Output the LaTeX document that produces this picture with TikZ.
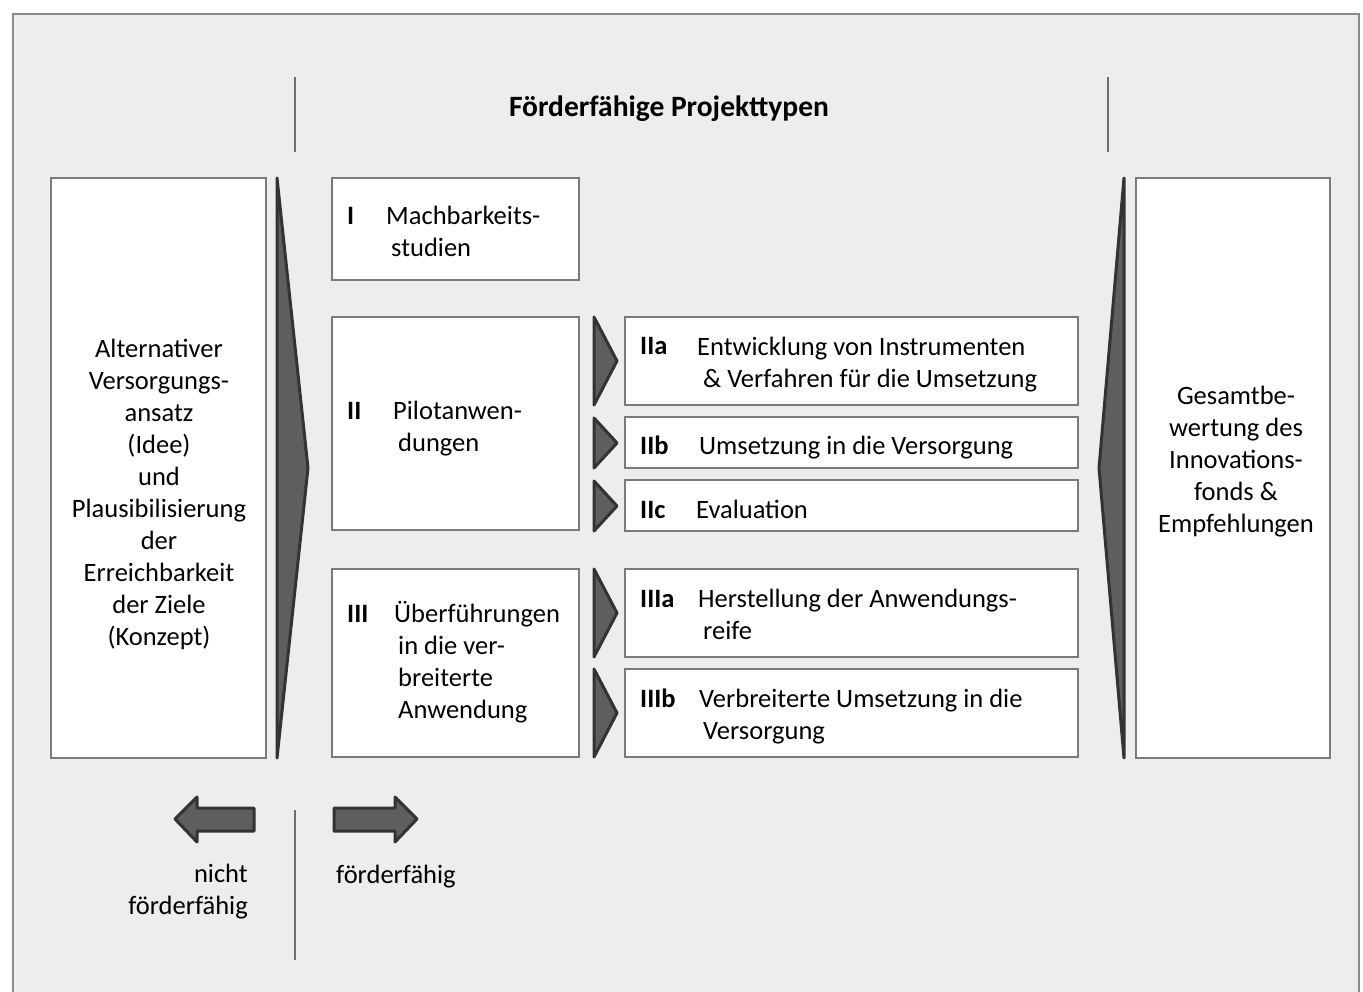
\documentclass[tikz,border=0pt]{standalone}
\usepackage{fontspec}
\setmainfont{Carlito}
\definecolor{bg}{HTML}{EDEDED}
\definecolor{frame}{HTML}{8A8A8A}
\definecolor{boxline}{HTML}{7A7A7A}
\definecolor{chevfill}{HTML}{5E5E5E}
\definecolor{chevline}{HTML}{333333}
\definecolor{sepline}{HTML}{6E6E6E}
\begin{document}
\begin{tikzpicture}[x=1pt,y=-1pt,
  box/.style={draw=boxline, line width=1.8pt, fill=white, anchor=north west, inner sep=0, outer sep=0},
  chev/.style={draw=chevline, fill=chevfill, line width=3pt, line join=round},
  sepl/.style={draw=sepline, line width=2pt},
  txt/.style={inner sep=0, anchor=base west, align=left, font=\fontsize{26.5}{32}\selectfont},
  lbl/.style={inner sep=0, anchor=base west, font=\fontsize{26.5}{32}\selectfont\bfseries},
  ctxt/.style={inner sep=0, anchor=center, align=center, font=\fontsize{26.5}{32}\selectfont}]
\useasboundingbox (0,0) rectangle (1363,992);
\clip (0,0) rectangle (1363,992);
\fill[white] (0,0) rectangle (1363,992);
\draw[draw=frame, fill=bg, line width=2.5pt] (13,14) rectangle (1359,1010);
% separators
\draw[sepl] (295,77) -- (295,152);
\draw[sepl] (1108,77) -- (1108,152);
\draw[sepl] (295,810) -- (295,960);
% title
\node[inner sep=0, font=\fontsize{29.5}{32}\selectfont\bfseries] (title) at (669,109) {Förderfähige Projekttypen};
% left box
\node[box, minimum width=215pt, minimum height=580pt] (left) at (51,178) {};
\node[ctxt] (lefttext) at (159,494) {Alternativer\\Versorgungs-\\ansatz\\(Idee)\\und\\Plausibilisierung\\der\\Erreichbarkeit\\der Ziele\\(Konzept)};
% big chevrons
\draw[chev] (277,178) -- (308,468) -- (277,758) -- cycle;
\draw[chev] (1124,178) -- (1099,468) -- (1124,758) -- cycle;
% right box
\node[box, minimum width=194pt, minimum height=580pt] (right) at (1136,178) {};
\node[ctxt] (righttext) at (1236,462) {Gesamtbe-\\wertung des\\Innovations-\\fonds \&\\Empfehlungen};
% middle boxes
\node[box, minimum width=247pt, minimum height=102pt] (bI) at (332,178) {};
\node[box, minimum width=247pt, minimum height=213pt] (bII) at (332,317) {};
\node[box, minimum width=247pt, minimum height=188pt] (bIII) at (332,569) {};
\node[lbl] (lI) at (347,225) {I};
\node[txt] (tI) at (386,257) {Machbarkeits-\\\hspace{5pt}studien};
\node[lbl] (lII) at (347,419) {II};
\node[txt] (tII) at (393,451) {Pilotanwen-\\\hspace{5pt}dungen};
\node[lbl] (lIII) at (347,622) {III};
\node[txt] (tIII) at (394,718) {Überführungen\\\hspace{4pt}in die ver-\\\hspace{4pt}breiterte\\\hspace{4pt}Anwendung};
% sub boxes
\node[box, minimum width=453pt, minimum height=88pt] (bIIa) at (625,317) {};
\node[box, minimum width=453pt, minimum height=51pt] (bIIb) at (625,417) {};
\node[box, minimum width=453pt, minimum height=51pt] (bIIc) at (625,480) {};
\node[box, minimum width=453pt, minimum height=88pt] (bIIIa) at (625,569) {};
\node[box, minimum width=453pt, minimum height=88pt] (bIIIb) at (625,669) {};
\node[lbl] (lIIa) at (640,355) {IIa};
\node[txt] (tIIa) at (697,387) {Entwicklung von Instrumenten\\\hspace{6pt}\& Verfahren für die Umsetzung};
\node[lbl] (lIIb) at (640,454) {IIb};
\node[txt] (tIIb) at (699,454) {Umsetzung in die Versorgung};
\node[lbl] (lIIc) at (640,518) {IIc};
\node[txt] (tIIc) at (696,518) {Evaluation};
\node[lbl] (lIIIa) at (640,607) {IIIa};
\node[txt] (tIIIa) at (698,639) {Herstellung der Anwendungs-\\\hspace{5pt}reife};
\node[lbl] (lIIIb) at (640,707) {IIIb};
\node[txt] (tIIIb) at (699,739) {Verbreiterte Umsetzung in die\\\hspace{4pt}Versorgung};
% small chevrons
\draw[chev] (594,317) -- (617,361) -- (594,405) -- cycle;
\draw[chev] (594,418) -- (617,443) -- (594,468) -- cycle;
\draw[chev] (594,481) -- (617,506) -- (594,531) -- cycle;
\draw[chev] (594,569) -- (617,613) -- (594,657) -- cycle;
\draw[chev] (594,669) -- (617,713) -- (594,757) -- cycle;
% bottom arrows
\draw[chev] (175,819) -- (197,797) -- (197,808) -- (254,808) -- (254,831) -- (197,831) -- (197,842) -- cycle;
\draw[chev] (417,819) -- (395,797) -- (395,808) -- (334,808) -- (334,831) -- (395,831) -- (395,842) -- cycle;
\node[inner sep=0, anchor=base east, align=right, font=\fontsize{26.5}{32}\selectfont] (nicht) at (248,914) {nicht\\förderfähig};
\node[txt] (foerd) at (336,883) {förderfähig};
\end{tikzpicture}
\end{document}
